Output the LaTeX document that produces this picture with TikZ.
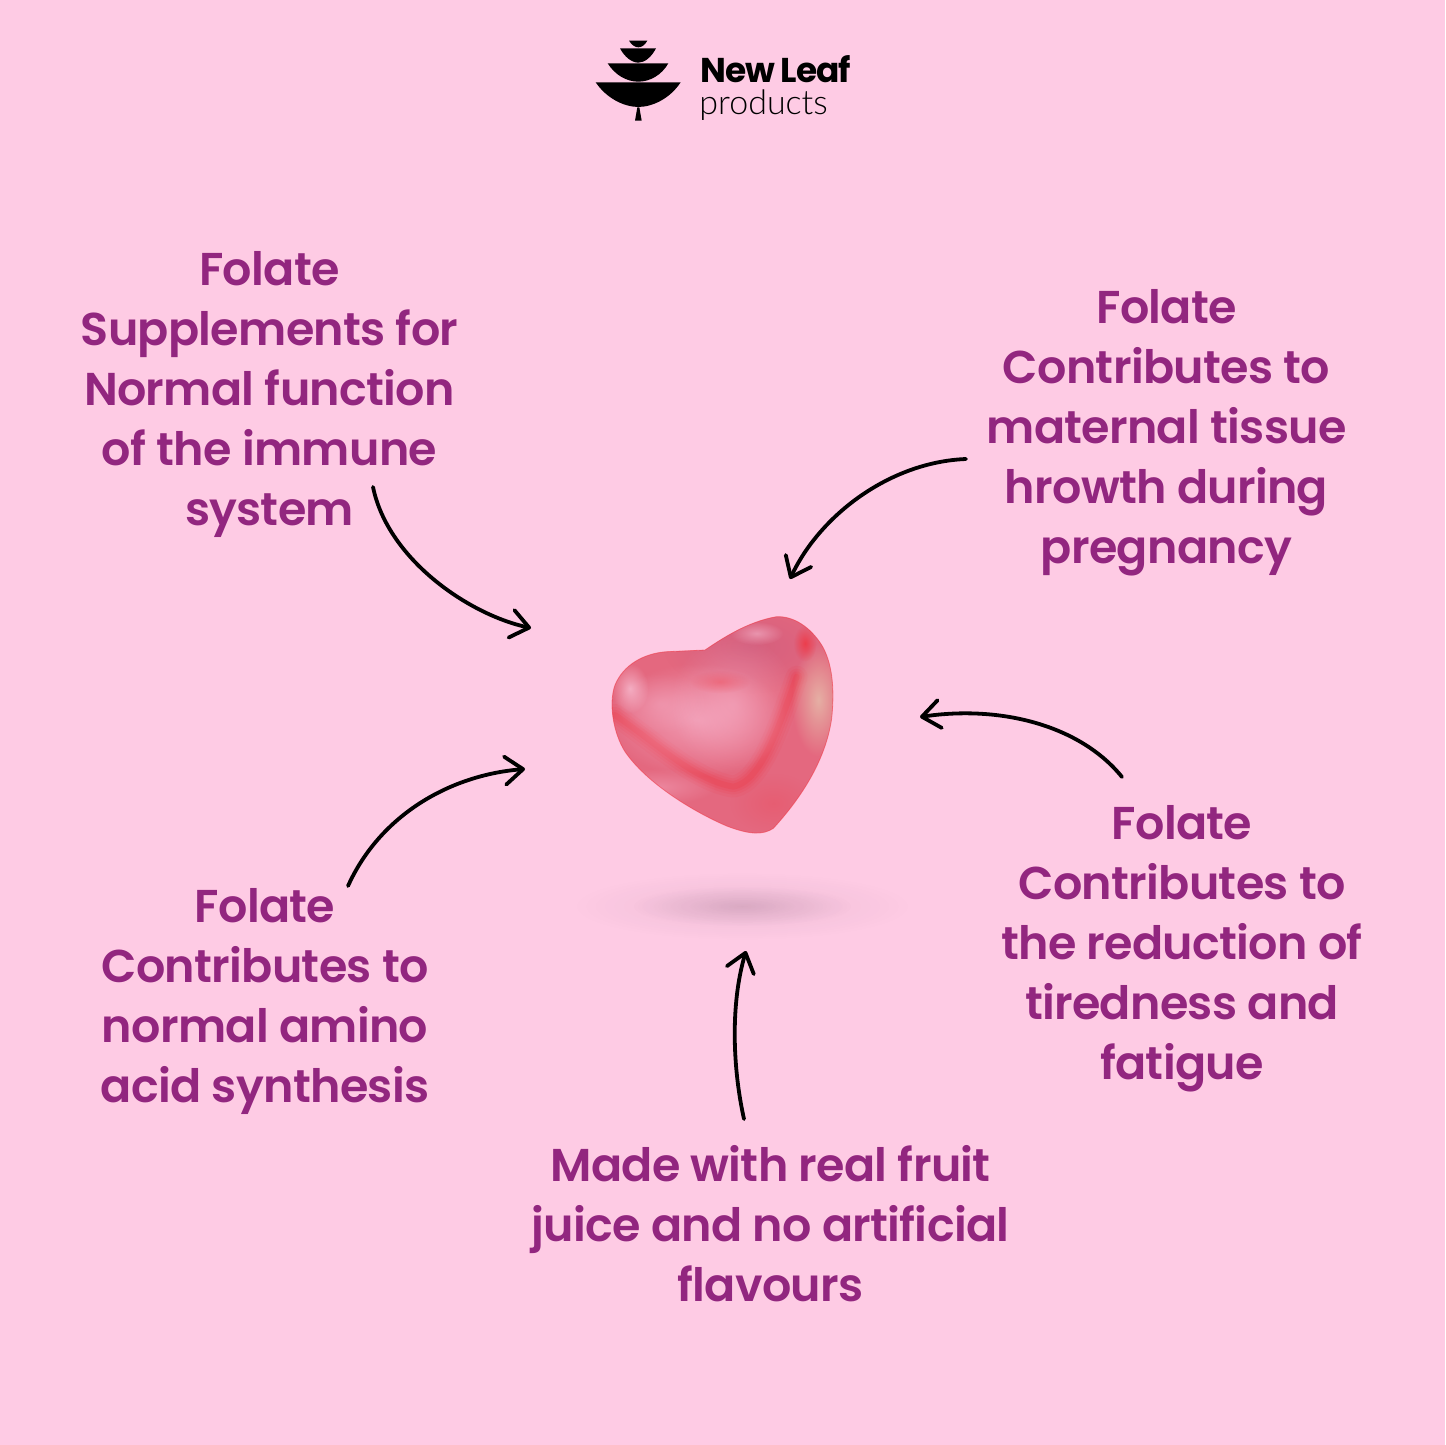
\documentclass[tikz,border=0pt]{standalone}
\usepackage{fontspec}
\usetikzlibrary{arrows.meta,fadings}
\setmainfont{Poppins}[UprightFont=* SemiBold,LetterSpace=-1.5]
\newfontfamily\logobold{Poppins}[UprightFont=* Bold,LetterSpace=-3.5]
\newfontfamily\logolight{Lato}[UprightFont=* Light]
\definecolor{bgpink}{HTML}{FECBE4}
\definecolor{plum}{HTML}{92267F}
\definecolor{heartA}{HTML}{E4687F}
\tikzfading[name=softf,inner color=transparent!0,outer color=transparent!100]
\tikzset{
 label/.style={text=plum,align=center,font=\fontsize{23pt}{30pt}\selectfont,inner sep=0pt},
 curved/.style={draw=black,line width=1.9pt,line cap=round,-{Straight Barb[length=9pt,width=14pt,line width=1.9pt,round]}},
 logoink/.style={fill=black,draw=none},
}
\newcommand{\softblob}[5]{\fill[#5,path fading=softf,fill opacity=#4] (#1) ellipse [x radius=#2,y radius=#3];}
\newcommand{\heartpath}{(435,180) .. controls (480,150) and (560,95) .. (650,80) .. controls (700,78) and (750,110) .. (785,165) .. controls (815,215) and (825,290) .. (815,385) .. controls (800,490) and (745,600) .. (640,715) .. controls (610,735) and (570,735) .. (500,708) .. controls (400,665) and (260,580) .. (195,485) .. controls (160,430) and (145,340) .. (165,285) .. controls (190,225) and (250,190) .. (320,185) -- cycle}
\begin{document}
\begin{tikzpicture}[x=0.5pt,y=-0.5pt]
\useasboundingbox (0,0) rectangle (1445,1445);
\fill[bgpink] (0,0) rectangle (1445,1445);
% logo
\begin{scope}[shift={(580,30)},x=0.16667pt,y=-0.16667pt]
\fill[logoink] (47,157) -- (302,157) .. controls (270,205) and (220,230) .. (175,231) .. controls (130,230) and (80,205) .. (47,157) -- cycle;
\fill[logoink] (83,100) -- (265,100) .. controls (245,135) and (210,155) .. (175,155) .. controls (140,155) and (105,135) .. (83,100) -- cycle;
\fill[logoink] (120,55) -- (228,55) .. controls (215,80) and (195,98) .. (175,98) .. controls (155,98) and (133,80) .. (120,55) -- cycle;
\fill[logoink] (147,32) -- (202,32) .. controls (195,45) and (185,52) .. (175,52) .. controls (165,52) and (155,45) .. (147,32) -- cycle;
\fill[logoink] (172,232) -- (178,232) -- (185,272) -- (165,272) -- cycle;
\end{scope}
\node[anchor=base west,inner sep=0pt,text depth=0pt,font=\logobold\fontsize{17.2pt}{18pt}\selectfont,text=black] (brand) at (700,83) {New Leaf};
\node[anchor=base west,inner sep=0pt,text height=9pt,font=\logolight\fontsize{17pt}{18pt}\selectfont,text=black] (brandsub) at (699,114) {products};
% shadow
\softblob{742,906}{170}{34}{0.07}{black!70!plum}
\softblob{742,906}{110}{20}{0.11}{black!70!plum}
% heart
\begin{scope}[shift={(560,590)},x=0.16667pt,y=-0.16667pt]
\begin{scope}
\path[clip] \heartpath;
\fill[heartA] (100,50) rectangle (850,750);
\softblob{570,170}{260}{140}{0.7}{magenta!35!heartA!88!black}
\foreach \w/\o in {11pt/0.06,8pt/0.08,5.5pt/0.10,3pt/0.12}{
 \draw[red!70!heartA,line width=\w,opacity=\o,line cap=round,line join=round] (165,375) .. controls (290,460) and (400,570) .. (520,590) .. controls (600,575) and (650,430) .. (710,260);
}
\softblob{410,390}{270}{170}{0.5}{bgpink}
\softblob{520,340}{190}{210}{0.35}{bgpink}
\softblob{300,340}{140}{90}{0.25}{bgpink}
\softblob{210,295}{55}{75}{0.6}{bgpink!80!white}
\softblob{590,130}{80}{35}{0.45}{bgpink!85!white}
\softblob{775,330}{80}{170}{0.75}{yellow!15!bgpink!80!gray}
\softblob{735,160}{35}{55}{0.65}{red!60!heartA}
\softblob{480,275}{90}{35}{0.3}{red!60!heartA}
\softblob{300,590}{170}{55}{0.3}{bgpink}
\softblob{640,640}{130}{90}{0.25}{red!40!heartA}
\end{scope}
\draw[red!50!heartA,line width=0.4pt,opacity=0.5] \heartpath;
\end{scope}
% labels
\node[label] (immune) at (269.5,395) {Folate\\Supplements for\\Normal function\\of the immune\\system};
\node[label] (tissue) at (1166.5,433) {Folate\\Contributes to\\maternal tissue\\hrowth during\\pregnancy};
\node[label] (tired) at (1182,949) {Folate\\Contributes to\\the reduction of\\tiredness and\\fatigue};
\node[label] (amino) at (265,1001) {Folate\\Contributes to\\normal amino\\acid synthesis};
\node[label] (fruit) at (770.5,1224) {Made with real fruit\\juice and no artificial\\flavours};
% arrow ends
\coordinate (h1) at (531,628);
\coordinate (h2) at (790,579);
\coordinate (h3) at (920,717);
\coordinate (h4) at (525,769);
\coordinate (h5) at (746,951);
\coordinate (s1) at (373,487);
\coordinate (s2) at (966,459);
\coordinate (s3) at (1122,777);
\coordinate (s4) at (348,886);
\coordinate (s5) at (744,1119);
\draw[curved] (s1) .. controls (388,560) and (470,615) .. (h1);
\draw[curved] (s2) .. controls (890,462) and (820,515) .. (h2);
\draw[curved] (s3) .. controls (1080,725) and (1000,705) .. (h3);
\draw[curved] (s4) .. controls (380,815) and (450,775) .. (h4);
\draw[curved] (s5) .. controls (733,1070) and (730,1005) .. (h5);
\end{tikzpicture}
\end{document}
